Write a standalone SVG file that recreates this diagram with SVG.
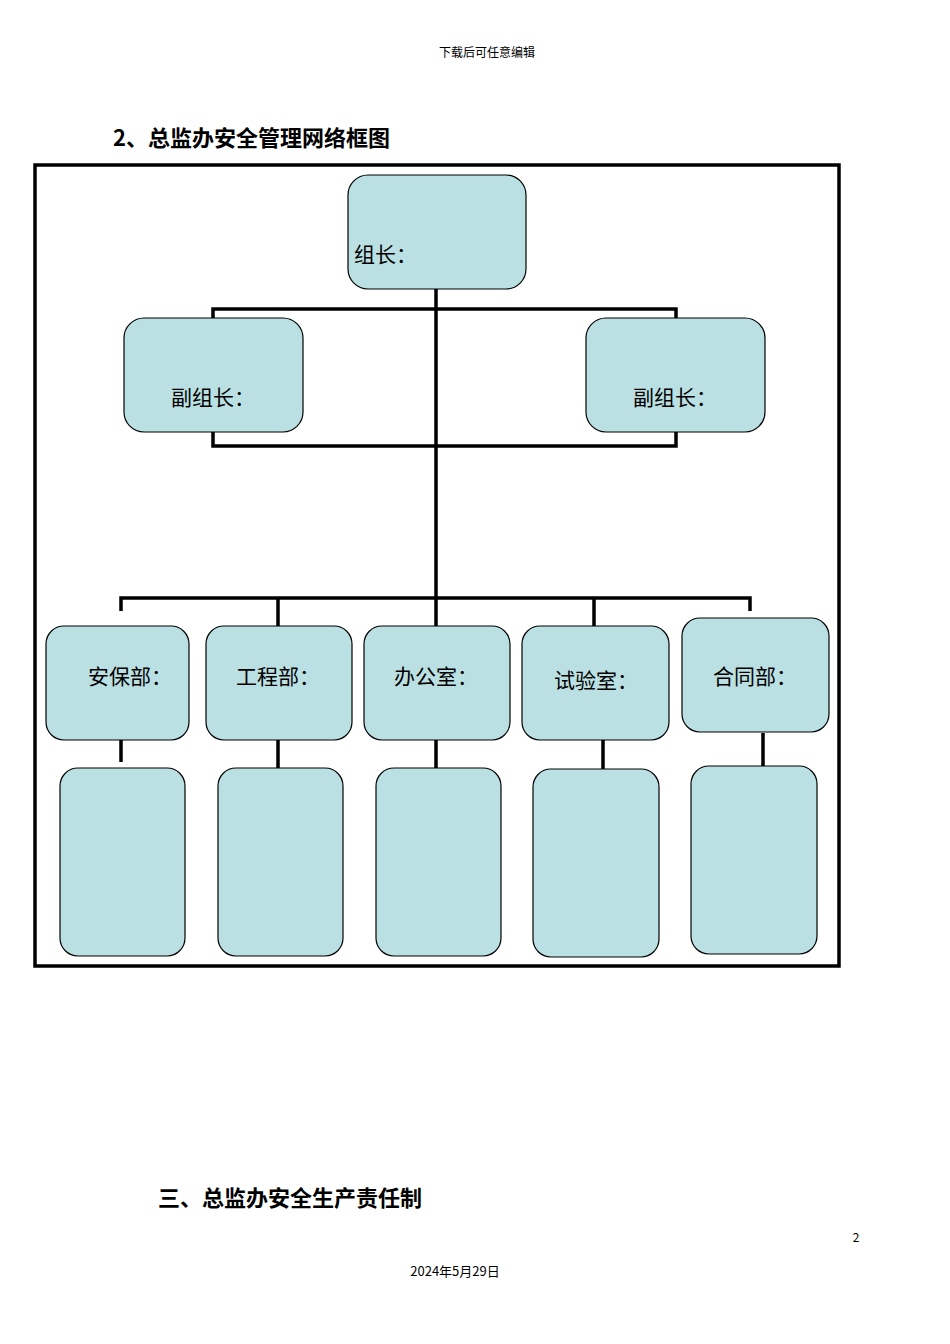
<svg xmlns="http://www.w3.org/2000/svg" width="950" height="1344" viewBox="0 0 950 1344">
<style>
.b{fill:#bbe0e3;stroke:#000;stroke-width:1.2}
.t{font-family:"Noto Sans CJK SC","Liberation Sans",sans-serif;font-size:21px;fill:#000}
.c{stroke:#000;stroke-width:3.5;fill:none}
.s{font-family:"Noto Sans CJK SC","Liberation Serif",serif;fill:#000}
</style>
<rect width="950" height="1344" fill="#fff"/>
<text class="s" x="487" y="57" font-size="12" text-anchor="middle">下载后可任意编辑</text>
<text class="s" x="113" y="146" font-size="22" font-weight="bold">2、总监办安全管理网络框图</text>
<rect x="35" y="165" width="804" height="801" fill="none" stroke="#000" stroke-width="3.5"/>
<g id="connectors">
<path class="c" d="M436 289V598M213 318V309H676V318M213 432V446H676V432M121 611V598H750V611M278 598V626M436 598V626M594 598V626M121 738V762M278 740V774M436 738V774M603 733V769M763 733V767"/>
</g>
<g id="n0"><rect class="b" x="348" y="175" width="178" height="114" rx="20"/><text class="t" x="354" y="262">组长：</text></g>
<g id="n1"><rect class="b" x="124" y="318" width="179" height="114" rx="20"/><text class="t" x="171" y="405">副组长：</text></g>
<g id="n2"><rect class="b" x="586" y="318" width="179" height="114" rx="20"/><text class="t" x="633" y="405">副组长：</text></g>
<g id="n3"><rect class="b" x="46" y="626" width="143" height="114" rx="18"/><text class="t" x="88" y="684">安保部：</text></g>
<g id="n4"><rect class="b" x="206" y="626" width="146" height="114" rx="18"/><text class="t" x="236" y="684">工程部：</text></g>
<g id="n5"><rect class="b" x="364" y="626" width="146" height="114" rx="18"/><text class="t" x="394" y="684">办公室：</text></g>
<g id="n6"><rect class="b" x="522" y="626" width="147" height="114" rx="18"/><text class="t" x="554" y="688">试验室：</text></g>
<g id="n7"><rect class="b" x="682" y="618" width="147" height="114" rx="18"/><text class="t" x="713" y="684">合同部：</text></g>
<g id="n8"><rect class="b" x="60" y="768" width="125" height="188" rx="18"/></g>
<g id="n9"><rect class="b" x="218" y="768" width="125" height="188" rx="18"/></g>
<g id="n10"><rect class="b" x="376" y="768" width="125" height="188" rx="18"/></g>
<g id="n11"><rect class="b" x="533" y="769" width="126" height="188" rx="18"/></g>
<g id="n12"><rect class="b" x="691" y="766" width="126" height="188" rx="18"/></g>
<text class="s" x="158" y="1206" font-size="22" font-weight="bold">三、总监办安全生产责任制</text>
<text class="s" x="856" y="1242" font-size="12" text-anchor="middle">2</text>
<text class="s" x="455" y="1276" font-size="13" text-anchor="middle">2024年5月29日</text>
</svg>
